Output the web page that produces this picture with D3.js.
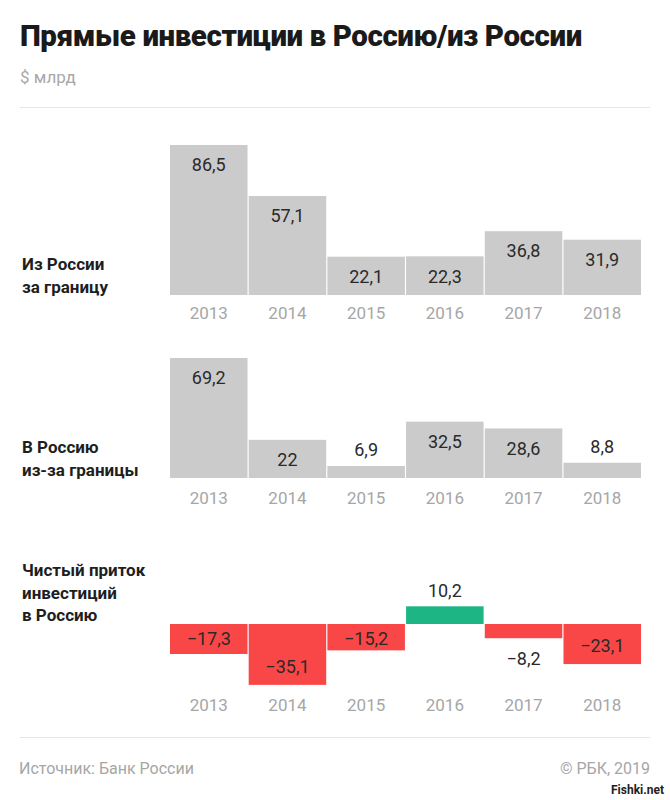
<!DOCTYPE html>
<html><head><meta charset="utf-8">
<script src="https://cdn.jsdelivr.net/npm/d3@7"></script>
<style>body{margin:0;background:#fff;} svg{display:block;font-family:Roboto,"Noto Sans",sans-serif;}</style>
</head><body>
<script>
const years = ["2013","2014","2015","2016","2017","2018"];
const outward = [86.5, 57.1, 22.1, 22.3, 36.8, 31.9];
const inward = [69.2, 22, 6.9, 32.5, 28.6, 8.8];
const netFlow = [-17.3, -35.1, -15.2, 10.2, -8.2, -23.1];
const panelTitles = [["Из России","за границу"],["В Россию","из-за границы"],["Чистый приток","инвестиций","в Россию"]];

const W = 670, H = 800;
const svg = d3.select("body").append("svg").attr("width", W).attr("height", H);
svg.append("rect").attr("width", W).attr("height", H).attr("fill", "#fff");

// title
const title = svg.append("text").attr("x", 20).attr("y", 46)
  .attr("font-size", 26).attr("font-weight", 900).attr("fill", "#1a1a1a")
  .attr("letter-spacing", "-0.4")
  .text("Прямые инвестиции в Россию/из России");
const tl = title.node().getComputedTextLength();
if (tl > 0) title.attr("font-size", 26 * 560 / tl);
svg.append("text").attr("x", 20).attr("y", 83).attr("font-size", 17).attr("fill", "#a8a8a8").text("$ млрд");
svg.append("line").attr("x1", 20).attr("x2", 650).attr("y1", 107.5).attr("y2", 107.5).attr("stroke", "#e6e6e6").attr("stroke-width", 1);

const x = d3.scaleBand().domain(years).range([170, 641]).paddingInner(0.015).paddingOuter(0);
const h = d3.scaleLinear().domain([0, 100]).range([0, 173.4]);

const fmt = v => (v < 0 ? "\u2212" : "") + String(Math.abs(v)).replace(".", ",");

function panel(values, base, yearY, labelLines, labelBaselines, colorFn) {
  const g = svg.append("g");
  g.selectAll("rect").data(values).join("rect")
    .attr("x", (d, i) => x(years[i]))
    .attr("width", x.bandwidth())
    .attr("y", d => d >= 0 ? base - h(d) : base)
    .attr("height", d => h(Math.abs(d)))
    .attr("fill", colorFn);
  g.selectAll("text.val").data(values).join("text").attr("class", "val")
    .attr("x", (d, i) => x(years[i]) + x.bandwidth() / 2)
    .attr("y", d => {
      const len = h(Math.abs(d));
      if (d >= 0) return len >= 32 ? base - len + 20 : base - len - 16;
      if (len < 22) return base + len + 20;
      return Math.max(base + len - 18, base + 15);
    })
    .attr("dy", "0.35em").attr("text-anchor", "middle")
    .attr("font-size", 18).attr("font-weight", 400).attr("fill", "#2a2a2a").text(fmt);
  g.selectAll("text.yr").data(years).join("text").attr("class", "yr")
    .attr("x", d => x(d) + x.bandwidth() / 2).attr("y", yearY)
    .attr("dy", "0.35em").attr("text-anchor", "middle")
    .attr("font-size", 17).attr("fill", "#a6a6a6").text(d => d);
  labelLines.forEach((t, i) => {
    g.append("text").attr("x", 22).attr("y", labelBaselines[i])
      .attr("font-size", 17).attr("font-weight", 700).attr("fill", "#1e1e1e").text(t);
  });
}

panel(outward, 295, 313, panelTitles[0], [270, 293], () => "#cbcbcb");
panel(inward, 478, 498, panelTitles[1], [453, 476], () => "#cbcbcb");
panel(netFlow, 624, 705, panelTitles[2], [576, 599, 621], d => d >= 0 ? "#1db584" : "#f94646");

// footer
svg.append("line").attr("x1", 20).attr("x2", 650).attr("y1", 737.5).attr("y2", 737.5).attr("stroke", "#e6e6e6").attr("stroke-width", 1);
svg.append("text").attr("x", 19).attr("y", 774).attr("font-size", 16).attr("fill", "#a6a6a6").text("Источник: Банк России");
svg.append("text").attr("x", 650).attr("y", 774).attr("text-anchor", "end").attr("font-size", 16).attr("fill", "#a6a6a6").text("© РБК, 2019");
svg.append("text").attr("x", 664).attr("y", 794).attr("text-anchor", "end").attr("font-size", 12).attr("font-weight", 700)
  .attr("fill", "#222").attr("stroke", "#fff").attr("stroke-width", 0.6).attr("paint-order", "stroke").text("Fishki.net");
</script>
</body></html>
